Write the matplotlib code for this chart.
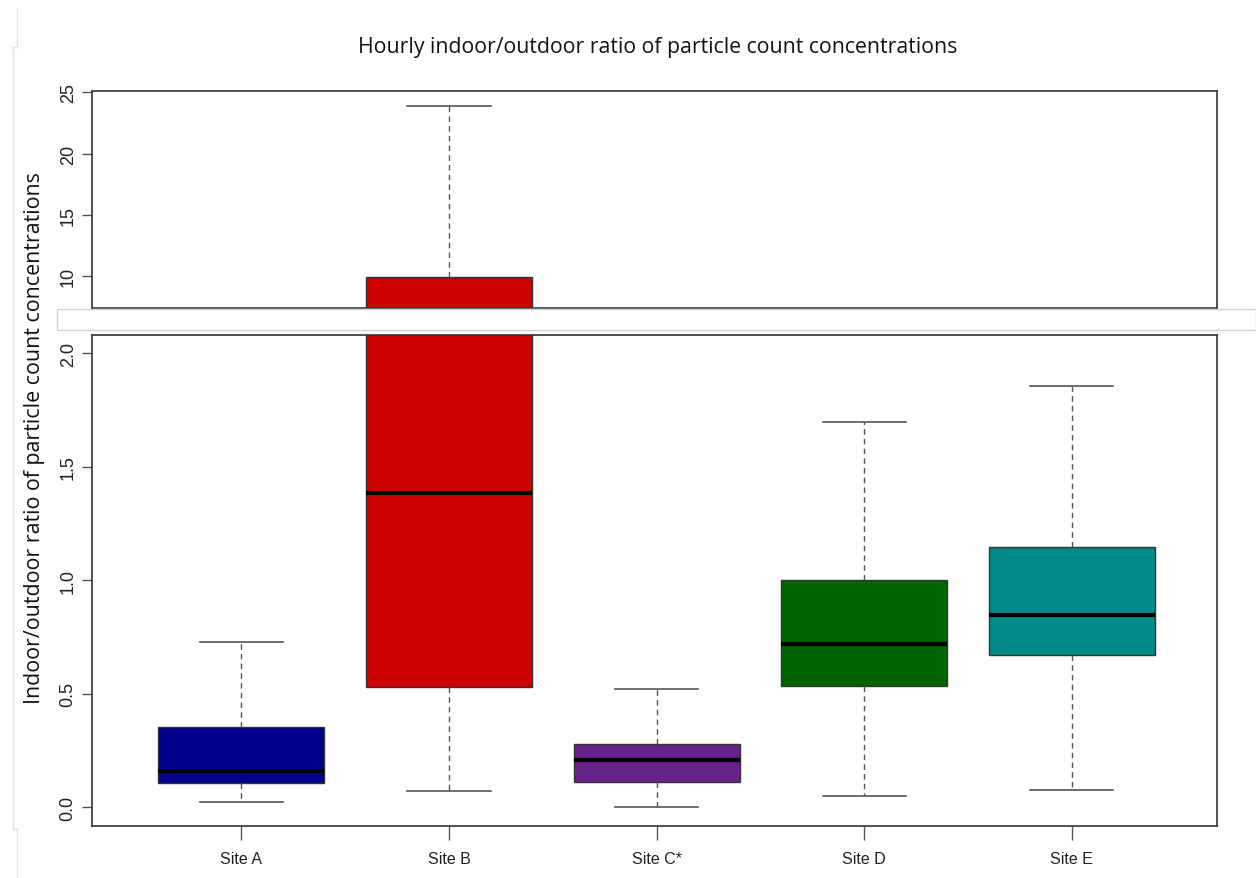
import matplotlib
matplotlib.use("Agg")
import matplotlib.pyplot as plt
from matplotlib.lines import Line2D
from matplotlib.patches import Rectangle

# box statistics per site
sites = ["Site A", "Site B", "Site C*", "Site D", "Site E"]
whis_lo = [0.022, 0.070, 0.001, 0.051, 0.075]
q1 = [0.107, 0.529, 0.113, 0.536, 0.670]
median = [0.161, 1.383, 0.207, 0.718, 0.846]
q3 = [0.353, 9.92, 0.278, 1.000, 1.145]
whis_hi = [0.728, 23.91, 0.522, 1.696, 1.855]
colors = ["#00008B", "#CD0000", "#68228B", "#006400", "#008B8B"]

top_ticks = [10, 15, 20, 25]
bottom_ticks = [0.0, 0.5, 1.0, 1.5, 2.0]

W, H = 1256, 879
fig = plt.figure(figsize=(W / 100, H / 100), dpi=100)
fig.patch.set_facecolor("white")

def fx(px):
    return px / W

def fy(py):
    return 1 - py / H

ax_top = fig.add_axes([fx(92), fy(309.3), fx(1217 - 92), (309.3 - 91.7) / H])
ax_bot = fig.add_axes([fx(92), fy(826.7), fx(1217 - 92), (826.7 - 336) / H])

stats = []
for i in range(len(sites)):
    stats.append(dict(label=sites[i], whislo=whis_lo[i], q1=q1[i], med=median[i],
                      q3=q3[i], whishi=whis_hi[i], fliers=[]))

pos = list(range(1, len(sites) + 1))
tick_font = "Liberation Sans"
edge = "#333333"

for ax in (ax_top, ax_bot):
    bp = ax.bxp(stats, positions=pos, widths=0.8, capwidths=0.4, patch_artist=True,
                showfliers=False, manage_ticks=False,
                boxprops=dict(edgecolor=edge, linewidth=1.0),
                medianprops=dict(color="black", linewidth=3.0, solid_capstyle="butt"),
                whiskerprops=dict(color="#555555", linewidth=1.0, linestyle=(0, (4, 3))),
                capprops=dict(color="#555555", linewidth=1.2))
    for patch, c in zip(bp["boxes"], colors):
        patch.set_facecolor(c)
    ax.set_xlim(0.28, 5.7)
    for s in ax.spines.values():
        s.set_color(edge)
        s.set_linewidth(1.2)
    ax.tick_params(axis="y", length=7, width=1.0, color="#555555", pad=4,
                   labelsize=13, labelcolor="#222222")

ax_top.set_ylim(7.39, 25.13)
ax_top.set_yticks(top_ticks)
ax_top.set_yticklabels([str(t) for t in top_ticks], rotation=90, va="center",
                       family=tick_font)
ax_top.set_xticks([])

ax_bot.set_ylim(-0.081, 2.081)
ax_bot.set_yticks(bottom_ticks)
ax_bot.set_yticklabels([f"{t:.1f}" for t in bottom_ticks], rotation=90, va="center",
                       family=tick_font)
ax_bot.set_xticks(pos)
ax_bot.set_xticklabels(sites, family=tick_font, fontsize=11.5, color="#222222")
ax_bot.tick_params(axis="x", length=10, width=1.0, color="#555555", pad=8)

fig.text(fx(658), fy(47), "Hourly indoor/outdoor ratio of particle count concentrations",
         ha="center", va="center", fontsize=15.3, family="Open Sans", color="#111111")
fig.text(fx(35), fy(438), "Indoor/outdoor ratio of particle count concentrations",
         ha="center", va="center", rotation=90, fontsize=15.4, family="Open Sans",
         color="#111111")

# white band marking the axis break
fig.add_artist(Rectangle((fx(57), fy(330.5)), 1 - fx(57), (330.5 - 310) / H,
                         transform=fig.transFigure, facecolor="white",
                         edgecolor="#d2d2d2", linewidth=1.0, zorder=5))

# faint page edges on the left
faint = "#e4e4e4"
for xs, ys in [([17, 17], [10, 48]), ([12, 17], [48, 48]), ([13, 13], [48, 830]),
               ([13, 17], [830, 830]), ([17, 17], [830, 879])]:
    fig.add_artist(Line2D([fx(x) for x in xs], [fy(y) for y in ys],
                          transform=fig.transFigure, color=faint, linewidth=1.0))

fig.savefig("out.png", dpi=100)
